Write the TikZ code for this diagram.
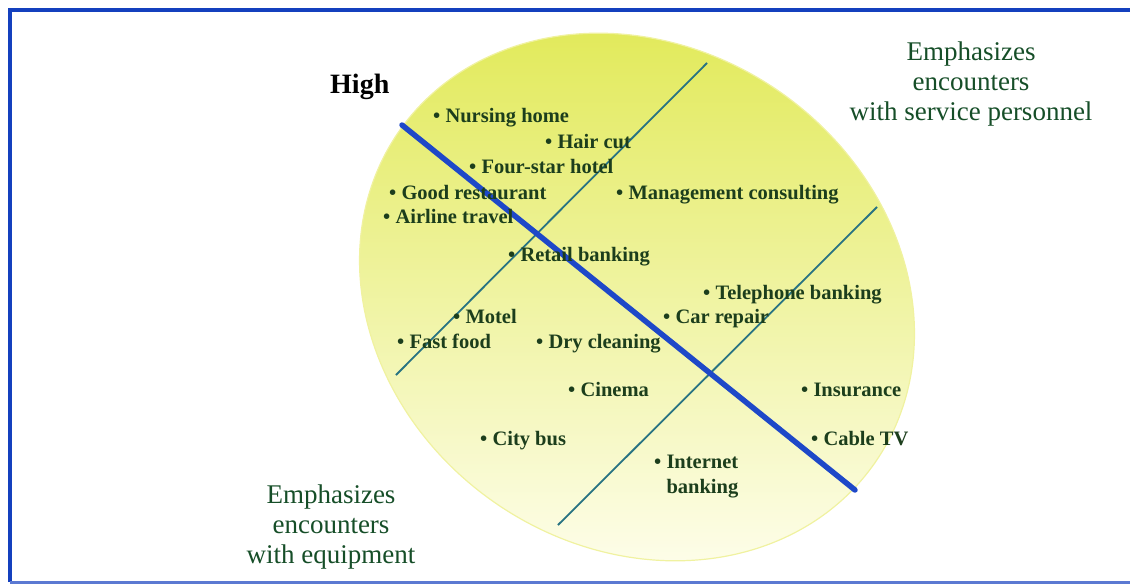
\documentclass[tikz,border=0pt]{standalone}
\usepackage{fontspec}
\setmainfont{Liberation Serif}
\definecolor{ellyellow}{RGB}{226,234,92}
\definecolor{ellmid}{RGB}{238,242,140}
\definecolor{ellpale}{RGB}{253,253,232}
\definecolor{ellrim}{RGB}{240,242,160}
\definecolor{itemgreen}{RGB}{28,62,28}
\definecolor{emphgreen}{RGB}{22,78,40}
\definecolor{axisblue}{RGB}{30,72,200}
\definecolor{linkteal}{RGB}{40,115,130}
\definecolor{frameblue}{RGB}{20,64,190}
\tikzset{
	item/.style={anchor=base west, inner sep=0pt, text=itemgreen, font=\fontsize{20.5}{25}\selectfont\bfseries},
	emph/.style={anchor=base, align=center, inner sep=0pt, text=emphgreen, font=\fontsize{27}{30}\selectfont}
}
\begin{document}
\begin{tikzpicture}[x=1pt,y=-1pt]
		\useasboundingbox (0,0) rectangle (1130,584);
		\draw[frameblue, line width=3.5pt] (10,582)--(10,10)--(1140,10);
		\draw[frameblue!70, line width=3pt] (10,582)--(1140,582);
		\shade[top color=ellyellow, middle color=ellmid, bottom color=ellpale, draw=ellrim, line width=1.2pt]
			plot[domain=0:360, samples=144, variable=\t, smooth]
			({637+290*cos(\t)*cos(35)-250*sin(\t)*sin(35)}, {297+290*cos(\t)*sin(35)+250*sin(\t)*cos(35)}) -- cycle;
		\draw[linkteal, line width=1.8pt] (396,375)--(707,63);
		\draw[linkteal, line width=1.8pt] (558,525)--(877,207);
		\draw[axisblue, line width=5.5pt, line cap=round] (402,125)--(855,490);
		\foreach \n/\x/\y/\t in {nurs/437/115/Nursing home, hair/549/141/Hair cut, hotel/473/166/Four-star hotel,
			rest/393/192/Good restaurant, mgmt/620/192/Management consulting, air/387/216/Airline travel,
			retail/512/254/Retail banking, tel/707/292/Telephone banking, motel/457/316/Motel,
			car/667/316/Car repair, fast/401/341/Fast food, dry/540/341/Dry cleaning,
			cinema/572/389/Cinema, ins/805/389/Insurance, bus/484/438/City bus, cable/815/438/Cable TV}
		\node[item] (\n) at (\x-4,\y+7) {• \t};
		\node[item, align=left] (inet) at (654,493) {• Internet\\\hphantom{• }banking};
		\node[anchor=base west, inner sep=0pt, font=\fontsize{28}{30}\selectfont\bfseries] (high) at (330,93) {High};
		\node[emph] (service) at (971,120) {Emphasizes\\encounters\\with service personnel};
		\node[emph] (equip) at (331,563) {Emphasizes\\encounters\\with equipment};
\end{tikzpicture}
\end{document}
